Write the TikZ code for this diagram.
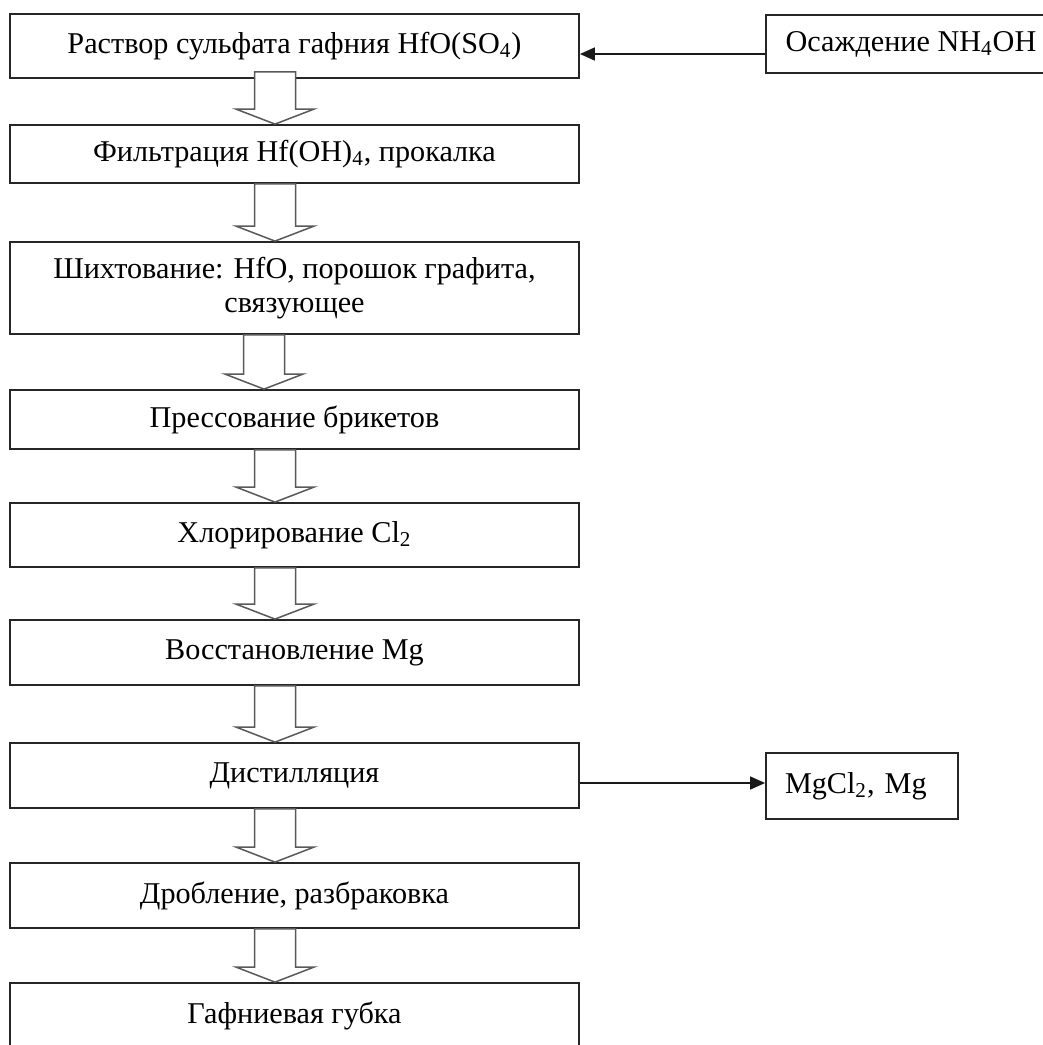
\documentclass[tikz,border=0pt]{standalone}
\usepackage{fontspec}
\setmainfont{Liberation Serif}
\usetikzlibrary{arrows.meta,calc}

% hollow arrow between two stages, optional shift of its axis
\newcommand{\gaparrow}[3][-9.75pt]{%
  \draw[hollow] let \p1=([xshift=#1]#2.south), \p2=(#3.north) in
    (\x1-10.25pt,\y1) -- (\x1-10.25pt,\y2+7.5pt) -- (\x1-19.5pt,\y2+7.5pt) -- (\x1,\y2)
    -- (\x1+19.5pt,\y2+7.5pt) -- (\x1+10.25pt,\y2+7.5pt) -- (\x1+10.25pt,\y1) -- cycle;}

\begin{document}
\begin{tikzpicture}[x=0.5pt, y=-0.5pt, >={Triangle[length=7.5pt,width=6.5pt]},
    font=\fontsize{15.1}{17}\selectfont,
    stage/.style={draw=black!85, line width=0.9pt, minimum width=284.5pt, inner sep=0pt, align=center},
    side/.style={draw=black!85, line width=0.9pt, inner sep=0pt, align=center},
    hollow/.style={draw=black!65, line width=0.75pt, fill=white},
    flow/.style={->, draw=black!90, line width=0.8pt}]
  \useasboundingbox (0,0) rectangle (1043,1045);

  % main chain
  \node[stage, minimum height=32pt] (rastvor) at (294.5,46) {Раствор сульфата гафния HfO(SO\textsubscript{4})};
  \node[stage, minimum height=29pt] (filtr) at (294.5,154) {Фильтрация Hf(OH)\textsubscript{4}, прокалка};
  \node[stage, minimum height=46pt] (shiht) at (294.5,288) {Шихтование: HfO, порошок графита,\\ связующее};
  \node[stage, minimum height=29.5pt] (press) at (294.5,419.5) {Прессование брикетов};
  \node[stage, minimum height=32pt] (hlor) at (294.5,535) {Хлорирование Cl\textsubscript{2}};
  \node[stage, minimum height=32.5pt] (vosst) at (294.5,652.5) {Восстановление Mg};
  \node[stage, minimum height=32.5pt] (distil) at (294.5,775.5) {Дистилляция};
  \node[stage, minimum height=32.5pt] (drobl) at (294.5,895.5) {Дробление, разбраковка};
  \node[stage, minimum height=32.5pt] (gubka) at (294.5,1015.5) {Гафниевая губка};

  % side boxes
  \node[side, minimum width=145pt, minimum height=29pt] (osad) at (911,44) {Осаждение NH\textsubscript{4}OH};
  \node[side, minimum width=96pt, minimum height=33pt, text width=77pt, inner xsep=9.5pt, align=left] (mgcl) at (862,786) {MgCl\textsubscript{2}, Mg};

  % hollow arrows
  \draw[hollow] let \p1=([xshift=-9.75pt]rastvor.south), \p2=(filtr.north) in
    (\x1-10.25pt,\y1+3.5pt) -- (\x1-10.25pt,\y2+7.5pt) -- (\x1-19.5pt,\y2+7.5pt) -- (\x1,\y2)
    -- (\x1+19.5pt,\y2+7.5pt) -- (\x1+10.25pt,\y2+7.5pt) -- (\x1+10.25pt,\y1+3.5pt) -- cycle;
  \gaparrow{filtr}{shiht}
  \gaparrow[-15.25pt]{shiht}{press}
  \gaparrow{press}{hlor}
  \gaparrow{hlor}{vosst}
  \gaparrow{vosst}{distil}
  \gaparrow{distil}{drobl}
  \gaparrow{drobl}{gubka}

  % side flows
  \coordinate (inlet) at ([yshift=-5pt]osad.west);
  \draw[flow] (inlet) -- (inlet -| rastvor.east);
  \coordinate (outlet) at ([yshift=-3.75pt]distil.east);
  \draw[flow] (outlet) -- (outlet -| mgcl.west);
\end{tikzpicture}
\end{document}
